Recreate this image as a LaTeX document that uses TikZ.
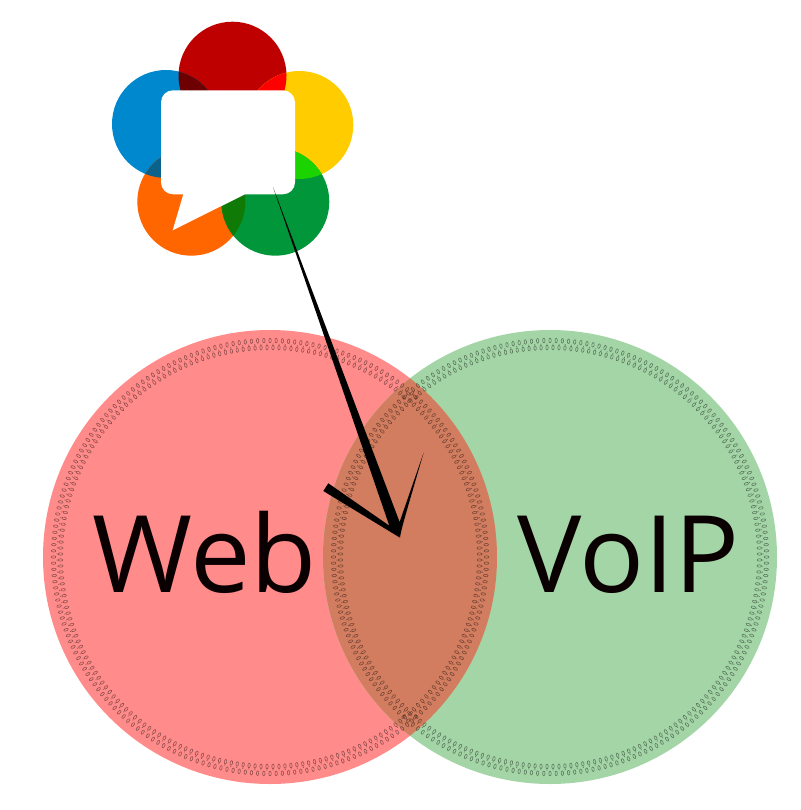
\documentclass[tikz,border=0pt]{standalone}
\usepackage{fontspec}
\setmainfont{Open Sans}
\definecolor{vennred}{HTML}{FF8B8A}
\definecolor{venngreen}{HTML}{A3D5A6}
\definecolor{vennmix}{HTML}{D27D5F}
\definecolor{inkblack}{HTML}{0A0002}
\definecolor{lred}{HTML}{BF0000}
\definecolor{lblue}{HTML}{0088CE}
\definecolor{lyellow}{HTML}{FFCC00}
\definecolor{lorange}{HTML}{FF6600}
\definecolor{lgreen}{HTML}{009639}
\definecolor{ovredblue}{HTML}{6D0000}
\definecolor{ovredyellow}{HTML}{FF0000}
\definecolor{ovyellowgreen}{HTML}{1AD300}
\definecolor{ovorangegreen}{HTML}{0F7A05}
\definecolor{ovblueorange}{HTML}{0A628A}
\tikzset{
  setlabel/.style={font=\fontsize{107}{107}\selectfont, text=inkblack, inner sep=0pt, anchor=base west},
  beadline/.style={draw=black, draw opacity=0.42, line width=0.6pt},
  beaddot/.style={fill=black, fill opacity=0.42},
}
\newcommand{\beadring}[2]{%
  \foreach \idx in {0,...,219} {
    \pgfmathsetmacro{\angA}{\idx*1.636364}
    \pgfmathsetmacro{\angB}{(\idx+0.5)*1.636364}
    \draw[beadline, shift={(#1,#2)}, rotate=\angA] (216.5,0) ellipse [x radius=2.3, y radius=1.2];
    \draw[beadline, shift={(#1,#2)}, rotate=\angB] (209.5,0) ellipse [x radius=2.3, y radius=1.2];
    \fill[beaddot, shift={(#1,#2)}, rotate=\angB] (213,0) circle [radius=0.55];
  }%
}
\begin{document}
\begin{tikzpicture}[x=1pt,y=-1pt]
\useasboundingbox (0,0) rectangle (800,810);
\fill[white] (0,0) rectangle (800,810);
% Venn
\coordinate (cweb) at (270,557);
\coordinate (cvoip) at (550,557);
\fill[vennred] (cweb) circle [radius=227];
\fill[venngreen] (cvoip) circle [radius=227];
\begin{scope}
  \clip (cweb) circle [radius=227];
  \fill[vennmix] (cvoip) circle [radius=227];
\end{scope}
\beadring{270}{557}
\beadring{550}{557}
\node[setlabel, xscale=1.01, transform shape] (web) at (92,592) {Web};
\node[setlabel, xscale=1.01, transform shape] (voip) at (517,592) {VoIP};
% Logo petals
\coordinate (pred) at (232.5,75.7);
\coordinate (pblue) at (166,124);
\coordinate (pyellow) at (299.3,125);
\coordinate (porange) at (191.3,201.7);
\coordinate (pgreen) at (275.3,201.7);
\fill[lred] (pred) circle [radius=54];
\fill[lblue] (pblue) circle [radius=54];
\fill[lyellow] (pyellow) circle [radius=54];
\fill[lorange] (porange) circle [radius=54];
\fill[lgreen] (pgreen) circle [radius=54];
\begin{scope}\clip (pred) circle [radius=54]; \fill[ovredblue] (pblue) circle [radius=54];\end{scope}
\begin{scope}\clip (pred) circle [radius=54]; \fill[ovredyellow] (pyellow) circle [radius=54];\end{scope}
\begin{scope}\clip (pyellow) circle [radius=54]; \fill[ovyellowgreen] (pgreen) circle [radius=54];\end{scope}
\begin{scope}\clip (porange) circle [radius=54]; \fill[ovorangegreen] (pgreen) circle [radius=54];\end{scope}
\begin{scope}\clip (pblue) circle [radius=54]; \fill[ovblueorange] (porange) circle [radius=54];\end{scope}
% Speech bubble
\fill[white, rounded corners=12] (161,90.3) -- (295,90.3) -- (295,194.3) -- (246,194.3)
  [sharp corners] -- (245,194.3) -- (172.7,230.3) -- (183.3,194.3) -- (184,194.3)
  [rounded corners=12] -- (161,194.3) -- cycle;
% Arrow
\coordinate (astart) at (273,187);
\coordinate (atip) at (400,537.7);
\coordinate (ainl) at (389.3,525.7);
\coordinate (ainr) at (399.6,522);
\coordinate (bl1) at (328.3,483.3);
\coordinate (bl2) at (323.3,491);
\coordinate (br) at (423.7,452.5);
\fill[black] (astart) -- (ainl) -- (bl1) -- (bl2) -- (atip)
  .. controls (401,530) and (404,520) .. (br)
  -- (ainr) -- cycle;
\end{tikzpicture}
\end{document}
